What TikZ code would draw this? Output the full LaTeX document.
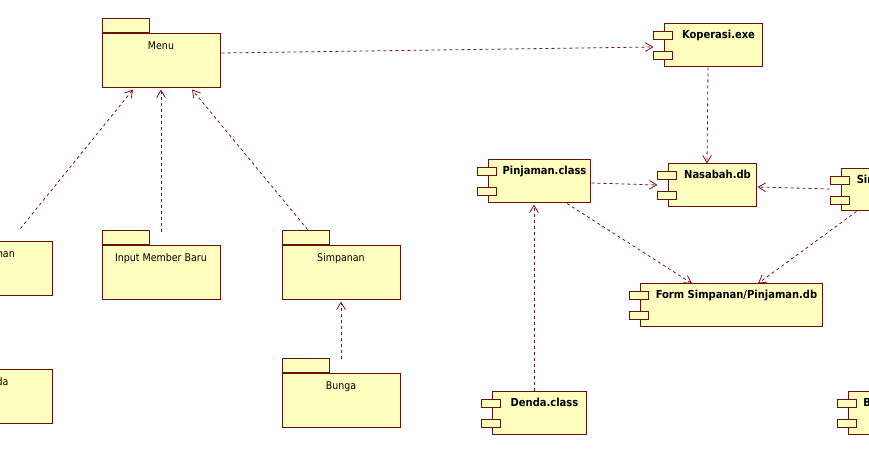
\documentclass[tikz,border=0pt]{standalone}
\usepackage{fontspec}
\setmainfont{DejaVu Sans Condensed}
\usetikzlibrary{arrows.meta,calc}

\definecolor{umlfill}{RGB}{255,255,192}
\definecolor{umlline}{RGB}{105,18,8}
\definecolor{depline}{RGB}{125,15,25}

\begin{document}
\begin{tikzpicture}[x=0.75pt,y=0.75pt,yscale=-1,
  pkg/.style={draw=umlline,fill=umlfill,line width=0.75pt,minimum width=88.5pt,minimum height=40.5pt,inner sep=0pt},
  pkgtab/.style={draw=umlline,fill=umlfill,line width=0.75pt,minimum width=35.25pt,minimum height=10.5pt,inner sep=0pt,anchor=south west},
  comp/.style={draw=umlline,fill=umlfill,line width=0.75pt,minimum height=32.25pt,inner sep=0pt},
  port/.style={draw=umlline,fill=umlfill,line width=0.75pt,minimum width=14.25pt,minimum height=6.4pt,inner sep=0pt},
  plabel/.style={font=\fontsize{7.9}{9}\selectfont,inner sep=0pt,anchor=base},
  clabel/.style={font=\fontsize{8.3}{10}\selectfont\bfseries,inner sep=0pt,anchor=base},
  dep/.style={draw=depline,line width=0.6pt,dash pattern=on 2.25pt off 2.25pt,-{Straight Barb[length=5.5pt,width=6.5pt]}}
]
\useasboundingbox (0,0) rectangle (869,456);
\clip (0,0) rectangle (869,456);

%Shape: Packages
\node[pkg] (menu) at (161,61) {};
\node[pkgtab] (menutab) at (menu.north west) {};
\node[pkg] (pinjpkg) at (-7,269) {};
\node[pkgtab] (pinjpkgtab) at (pinjpkg.north west) {};
\node[pkg] (inmem) at (161,273) {};
\node[pkgtab] (inmemtab) at (inmem.north west) {};
\node[pkg] (simppkg) at (341,273) {};
\node[pkgtab] (simppkgtab) at (simppkg.north west) {};
\node[pkg] (dendapkg) at (-7,397) {};
\node[pkgtab] (dendapkgtab) at (dendapkg.north west) {};
\node[pkg] (bunga) at (341,401) {};
\node[pkgtab] (bungatab) at (bunga.north west) {};

% Text Node
\node[plabel] (menulbl) at (161,50) {Menu};
\node[plabel] (pinjpkglbl) at (-7,258) {Pinjaman};
\node[plabel] (inmemlbl) at (161,262) {Input Member Baru};
\node[plabel] (simppkglbl) at (341,262) {Simpanan};
\node[plabel] (dendapkglbl) at (-7,386) {Denda};
\node[plabel] (bungalbl) at (341,390) {Bunga};

%Shape: Components
\node[comp,minimum width=73.5pt] (kop) at (713,45.5) {};
\node[comp,minimum width=66pt] (nas) at (712,185.5) {};
\node[comp,minimum width=76.5pt] (pinjc) at (539,181.5) {};
\node[comp,minimum width=81pt,minimum height=31.5pt] (simpc) at (895,190) {};
\node[comp,minimum width=136.5pt] (form) at (731,305.5) {};
\node[comp,minimum width=70.5pt] (dendac) at (539,413.5) {};
\node[comp,minimum width=65.25pt] (bungac) at (891.5,413.5) {};

% ports
\foreach \c in {kop,nas,pinjc,simpc,form,dendac,bungac}{
  \node[port] (\c p1) at ($(\c.north west)+(-0.5,12)$) {};
  \node[port] (\c p2) at ($(\c.north west)+(-0.5,32)$) {};
}

% Text Node
\node[clabel] (koplbl) at ($(kop.north)+(5.5,15)$) {Koperasi.exe};
\node[clabel] (naslbl) at ($(nas.north)+(5.5,15)$) {Nasabah.db};
\node[clabel] (pinjclbl) at ($(pinjc.north)+(5.5,15)$) {Pinjaman.class};
\node[clabel] (simpclbl) at ($(simpc.north)+(5.5,15)$) {Simpanan.class};
\node[clabel] (formlbl) at ($(form.north)+(5.5,15)$) {Form Simpanan/Pinjaman.db};
\node[clabel] (dendaclbl) at ($(dendac.north)+(5.5,15)$) {Denda.class};
\node[clabel] (bungaclbl) at ($(bungac.north)+(5.5,15)$) {Bunga.class};

%Straight Lines: dependencies
\draw[dep] ($(pinjpkg.north east)+(-32,-13)$) -- ($(menu.south)+(-28,1)$);
\draw[dep] ($(inmem.north)+(0,-13)$) -- ($(menu.south)+(0,1)$);
\draw[dep] ($(simppkg.north west)+(26,-16)$) -- ($(menu.south)+(31,1)$);
\draw[dep] ($(bunga.north)+(0,-14)$) -- ($(simppkg.south)+(0,1)$);
\draw[dep] ($(menu.east)+(1,-8)$) -- ($(kop.west)+(-10,1.5)$);
\draw[dep] ($(kop.south)+(-5,0)$) -- ($(nas.north)+(-5,0)$);
\draw[dep] ($(pinjc.east)+(1,1.5)$) -- ($(nas.west)+(-10,-0.5)$);
\draw[dep] ($(simpc.west)+(-11,-1)$) -- ($(nas.east)+(1,1.5)$);
\draw[dep] ($(pinjc.south)+(28,0)$) -- ($(form.north)+(-39,0)$);
\draw[dep] ($(simpc.south west)+(16,0)$) -- ($(form.north)+(27,0)$);
\draw[dep] ($(dendac.north)+(-5,0)$) -- ($(pinjc.south)+(-5,1)$);

\end{tikzpicture}
\end{document}
